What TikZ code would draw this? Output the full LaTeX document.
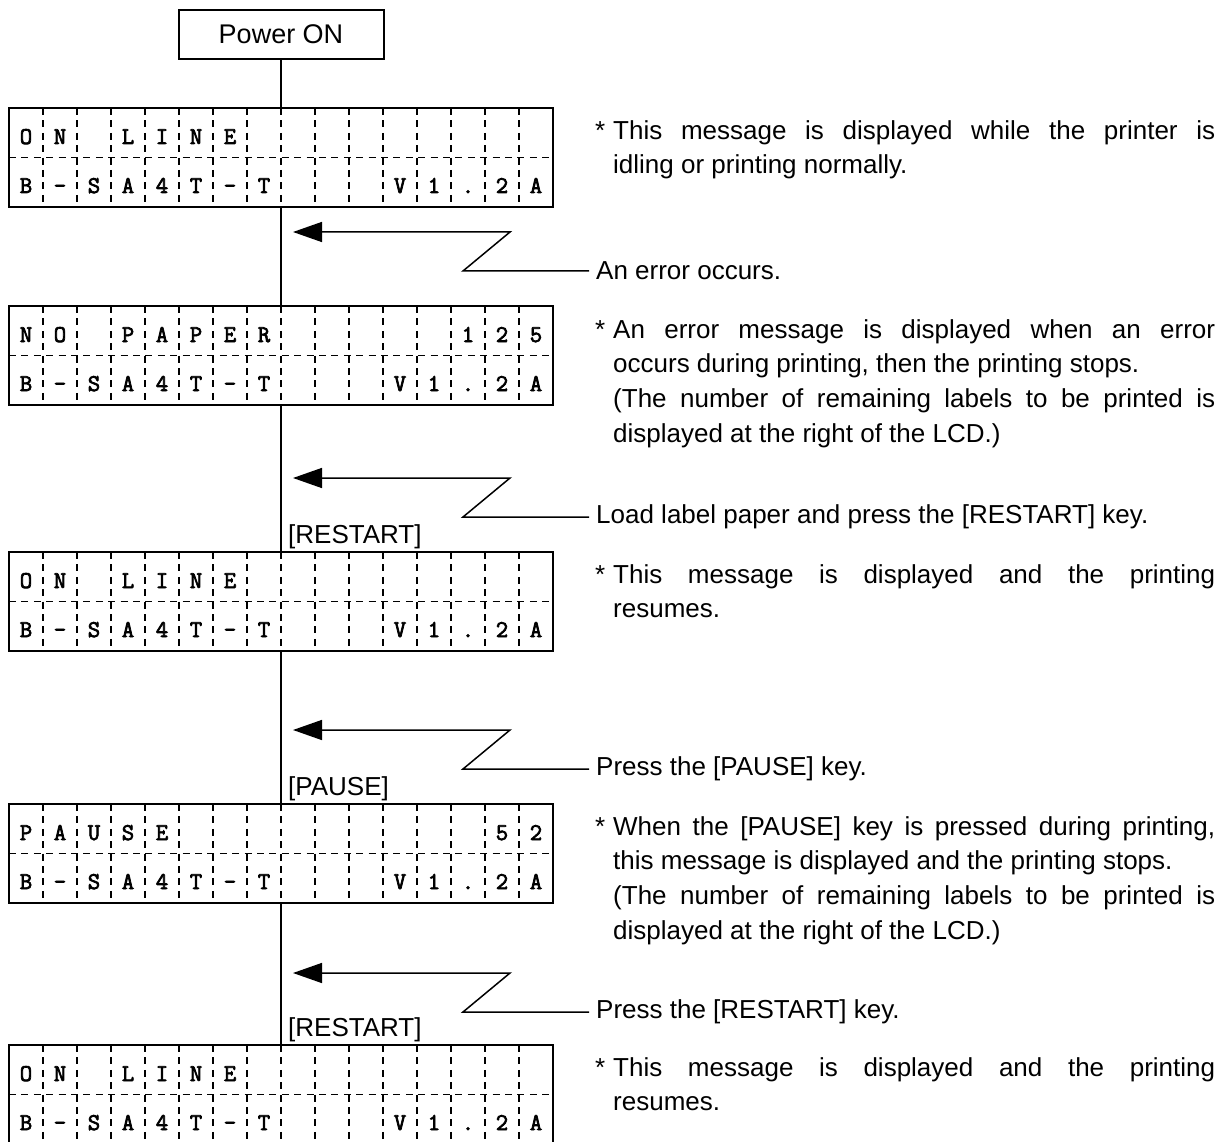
\documentclass[tikz,border=0pt]{standalone}
\usepackage{fontspec}
\setmainfont{Liberation Sans}
\newfontfamily\lcdfont{Latin Modern Mono}[FakeBold=3]
\usetikzlibrary{arrows.meta,positioning}

\tikzset{
  powerbox/.style={
    rectangle, draw, line width=2pt,
    minimum width=205pt, minimum height=49pt,
    inner sep=0pt, font=\fontsize{27}{32}\selectfont
  },
  lcdbox/.style={
    rectangle, draw, line width=2.5pt,
    minimum width=544pt, minimum height=99pt, inner sep=0pt
  },
  cellsep/.style={line width=1.7pt, dash pattern=on 7pt off 5.4pt},
  lcdchar/.style={
    anchor=base, inner sep=0pt,
    font=\lcdfont\fontsize{24}{24}\selectfont
  },
  flowline/.style={line width=1.5pt},
  evarrow/.style={line width=1.5pt, -{Triangle[length=29pt, width=20pt]}},
  keylabel/.style={
    anchor=south west, inner sep=0pt, font=\fontsize{26}{30}\selectfont
  },
  eventtext/.style={
    anchor=west, inner xsep=7pt, inner ysep=0pt,
    font=\fontsize{26}{30}\selectfont
  },
  notetext/.style={
    anchor=north west, inner sep=0pt, align=left,
    font=\fontsize{26}{34.7}\selectfont
  },
}

% one LCD panel: name, top edge, upper row, lower row
\newcommand{\lcdpanel}[4]{%
  \node[lcdbox] (#1) at (281,#2+49.5) {};
  \foreach \k in {1,...,15}
    \draw[cellsep] ({9+34*\k},#2) -- ({9+34*\k},#2+99);
  \draw[cellsep] (9,#2+49.5) -- (553,#2+49.5);
  \foreach \c [count=\i] in {#3}
    \node[lcdchar] (#1-a\i) at ({34*\i-8},#2+36) {\c};
  \foreach \c [count=\i] in {#4}
    \node[lcdchar] (#1-b\i) at ({34*\i-8},#2+85) {\c};
}
\newcommand{\notemark}{\makebox[18pt][l]{*}}
\newcommand{\jline}[1]{\makebox[602pt][s]{#1}}
\newcommand{\nindent}{\hspace*{18pt}}

\begin{document}
\begin{tikzpicture}[x=1pt, y=-1pt]
  \useasboundingbox (0,0) rectangle (1224,1142);

  \node[powerbox] (power) at (281,34.5) {Power ON};

  % LCD panels
  \lcdpanel{lcd1}{108}{O,N,{},L,I,N,E,{},{},{},{},{},{},{},{},{}}
    {B,-,S,A,4,T,-,T,{},{},{},V,1,.,2,A}
  \lcdpanel{lcd2}{306}{N,O,{},P,A,P,E,R,{},{},{},{},{},1,2,5}
    {B,-,S,A,4,T,-,T,{},{},{},V,1,.,2,A}
  \lcdpanel{lcd3}{552}{O,N,{},L,I,N,E,{},{},{},{},{},{},{},{},{}}
    {B,-,S,A,4,T,-,T,{},{},{},V,1,.,2,A}
  \lcdpanel{lcd4}{804}{P,A,U,S,E,{},{},{},{},{},{},{},{},{},5,2}
    {B,-,S,A,4,T,-,T,{},{},{},V,1,.,2,A}
  \lcdpanel{lcd5}{1045}{O,N,{},L,I,N,E,{},{},{},{},{},{},{},{},{}}
    {B,-,S,A,4,T,-,T,{},{},{},V,1,.,2,A}

  \draw[flowline] (power.south) -- (lcd1.north);
  \draw[flowline] (lcd1.south) -- (lcd2.north);
  \draw[flowline] (lcd2.south) -- (lcd3.north);
  \draw[flowline] (lcd3.south) -- (lcd4.north);
  \draw[flowline] (lcd4.south) -- (lcd5.north);

  % events
  \node[eventtext] (ev1) at (589,271) {An error occurs.};
  \draw[evarrow] (ev1.west) -- (463,271) -- (510,232) -- (293,232);

  \node[eventtext] (ev2) at (589,517)
    {Load label paper and press the [RESTART] key.};
  \draw[evarrow] (ev2.west) -- (463,517) -- (510,478) -- (293,478);
  \node[keylabel] (key2) at (288,549) {[RESTART]};

  \node[eventtext] (ev3) at (589,769) {Press the [PAUSE] key.};
  \draw[evarrow] (ev3.west) -- (463,769) -- (510,730) -- (293,730);
  \node[keylabel] (key3) at (288,801) {[PAUSE]};

  \node[eventtext] (ev4) at (589,1012) {Press the [RESTART] key.};
  \draw[evarrow] (ev4.west) -- (463,1012) -- (510,973) -- (293,973);
  \node[keylabel] (key4) at (288,1042) {[RESTART]};

  % notes
  \node[notetext] (note1) at (595,120)
    {\notemark\jline{This message is displayed while the printer is}\\
     \nindent idling or printing normally.};
  \node[notetext] (note2) at (595,319)
    {\notemark\jline{An error message is displayed when an error}\\
     \nindent occurs during printing, then the printing stops.\\
     \nindent\jline{(The number of remaining labels to be printed is}\\
     \nindent displayed at the right of the LCD.)};
  \node[notetext] (note3) at (595,564)
    {\notemark\jline{This message is displayed and the printing}\\
     \nindent resumes.};
  \node[notetext] (note4) at (595,816)
    {\notemark\jline{When the [PAUSE] key is pressed during printing,}\\
     \nindent this message is displayed and the printing stops.\\
     \nindent\jline{(The number of remaining labels to be printed is}\\
     \nindent displayed at the right of the LCD.)};
  \node[notetext] (note5) at (595,1057)
    {\notemark\jline{This message is displayed and the printing}\\
     \nindent resumes.};
\end{tikzpicture}
\end{document}
